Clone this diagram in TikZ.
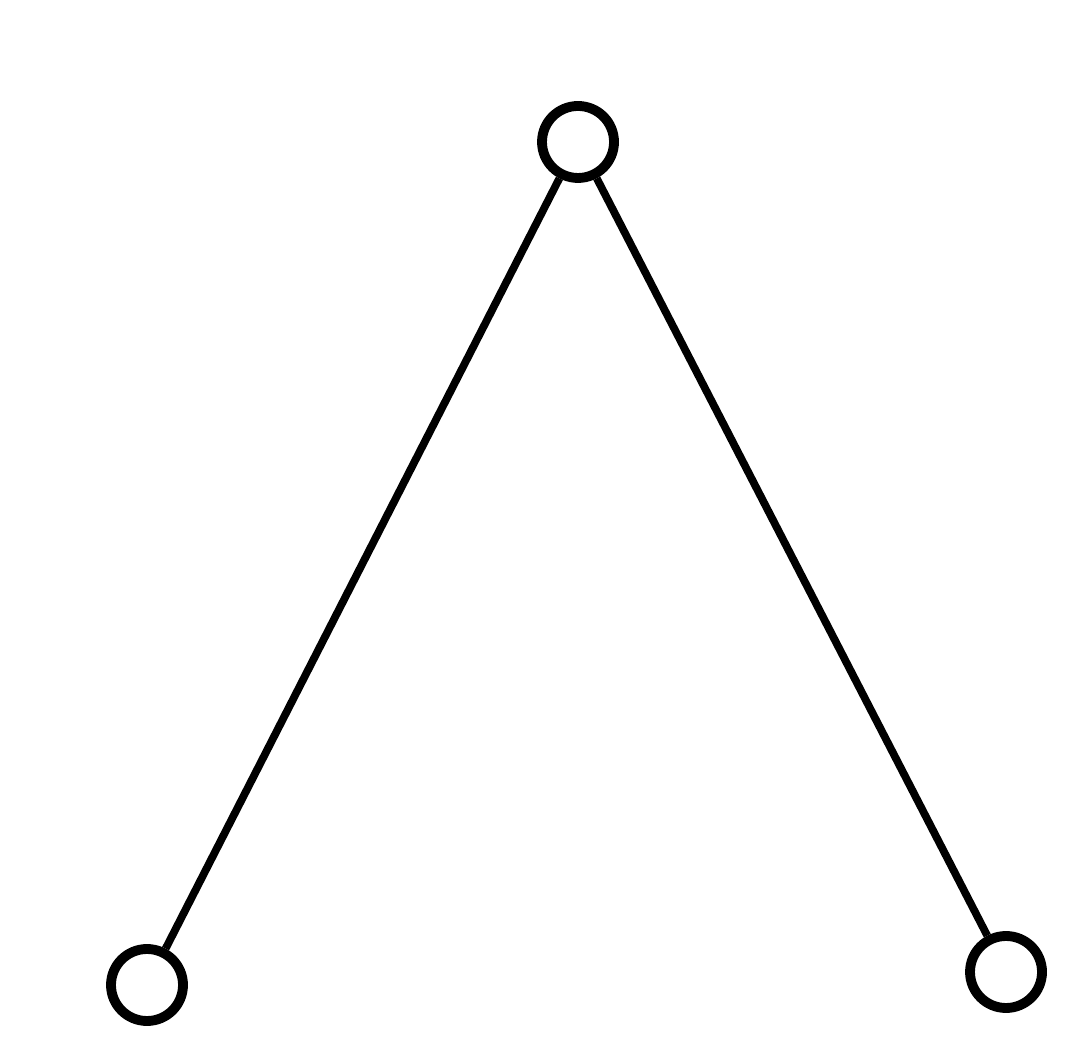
\documentclass[tikz,border=0pt]{standalone}
\usepackage{tikz}

\begin{document}
\begin{tikzpicture}[
  vert/.style={draw, circle, line width=2.8pt, minimum size=0.72cm, inner sep=0pt},
  edge/.style={line width=2.2pt}]
\useasboundingbox (0,0) rectangle (10.75,10.43);
\node[vert] (root) at (5.78,9.01) {};
\node[vert] (left) at (1.47,0.58) {};
\node[vert] (right) at (10.06,0.71) {};
\draw[edge] (root) -- (left);
\draw[edge] (root) -- (right);
\end{tikzpicture}
\end{document}
